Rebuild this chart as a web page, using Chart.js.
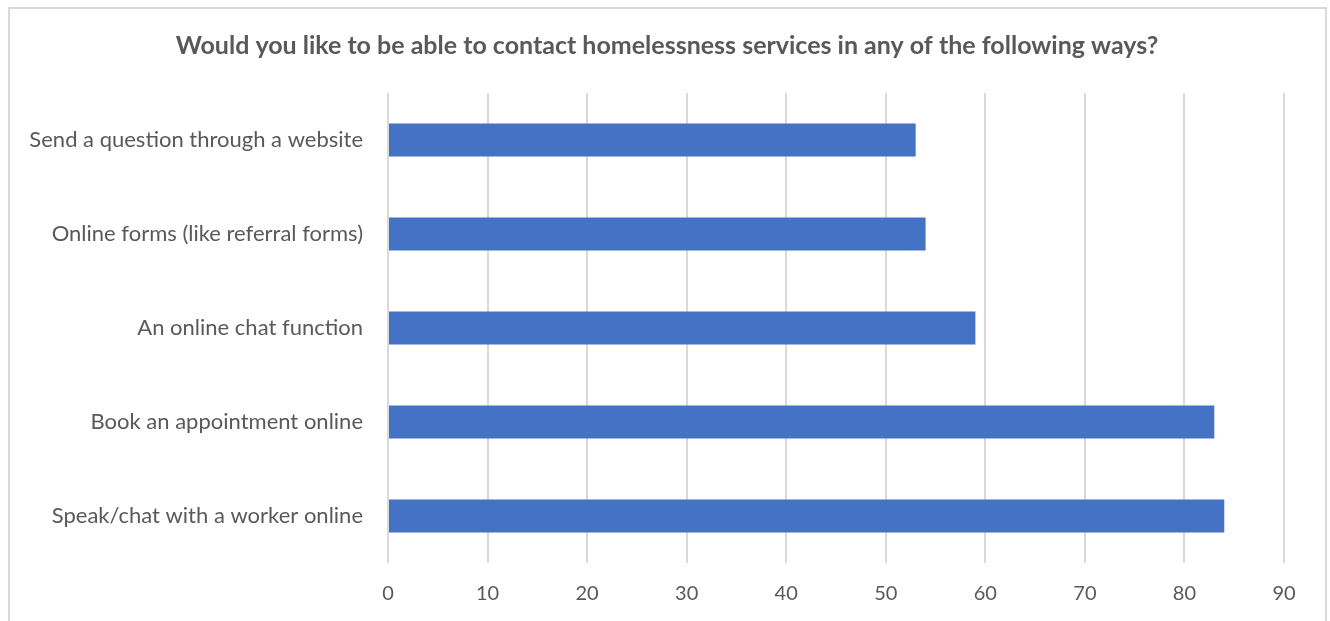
<!DOCTYPE html>
<html>
<head>
<meta charset="utf-8">
<script src="https://cdn.jsdelivr.net/npm/chart.js@4"></script>
<style>
  html, body { margin: 0; padding: 0; background: #fff; }
  #wrap { position: absolute; left: 0; top: 0; width: 1330px; height: 621px; }
</style>
</head>
<body>
<div id="wrap"><canvas id="chart" width="1330" height="621"></canvas></div>
<script>
// chart data
const categories = [
  "Send a question through a website",
  "Online forms (like referral forms)",
  "An online chat function",
  "Book an appointment online",
  "Speak/chat with a worker online"
];
const values = [53, 54, 59, 83, 84];
const titleText = "Would you like to be able to contact homelessness services in any of the following ways?";

// frame round the whole chart
const framePlugin = {
  id: "frame",
  beforeDraw(chart) {
    const c = chart.ctx;
    c.save();
    c.fillStyle = "#ffffff";
    c.fillRect(0, 0, chart.width, chart.height);
    c.strokeStyle = "#d9d9d9";
    c.lineWidth = 2;
    c.strokeRect(9, 8, 1317, 640);
    c.restore();
  },
  // centre the title on the frame, not on the padded box
  afterLayout(chart) {
    if (chart.titleBlock) {
      chart.titleBlock.left += 25;
      chart.titleBlock.right += 25;
    }
  }
};

const ctx = document.getElementById("chart").getContext("2d");

new Chart(ctx, {
  type: "bar",
  data: {
    labels: categories,
    datasets: [{
      data: values,
      backgroundColor: "#4472C4",
      categoryPercentage: 1,
      barPercentage: 0.35
    }]
  },
  plugins: [framePlugin],
  options: {
    indexAxis: "y",
    responsive: false,
    animation: false,
    layout: { padding: { left: 0, right: 46, top: 0, bottom: 0 } },
    plugins: {
      legend: { display: false },
      tooltip: { enabled: false },
      title: {
        display: true,
        text: titleText,
        color: "#595959",
        font: { family: "Lato", size: 25, weight: "bold" },
        padding: { top: 31, bottom: 32 }
      }
    },
    scales: {
      x: {
        min: 0,
        max: 90,
        ticks: {
          stepSize: 10,
          color: "#595959",
          font: { family: "Lato", size: 20 },
          padding: 19
        },
        grid: { color: "#d9d9d9", lineWidth: 2, drawTicks: false },
        border: { display: false },
        afterFit(scale) { scale.height = 58; }
      },
      y: {
        ticks: {
          color: "#595959",
          font: { family: "Lato", size: 22 },
          padding: 25
        },
        grid: { display: false, drawTicks: false },
        border: { display: false },
        afterFit(scale) { scale.width = 388; }
      }
    }
  }
});
</script>
</body>
</html>
